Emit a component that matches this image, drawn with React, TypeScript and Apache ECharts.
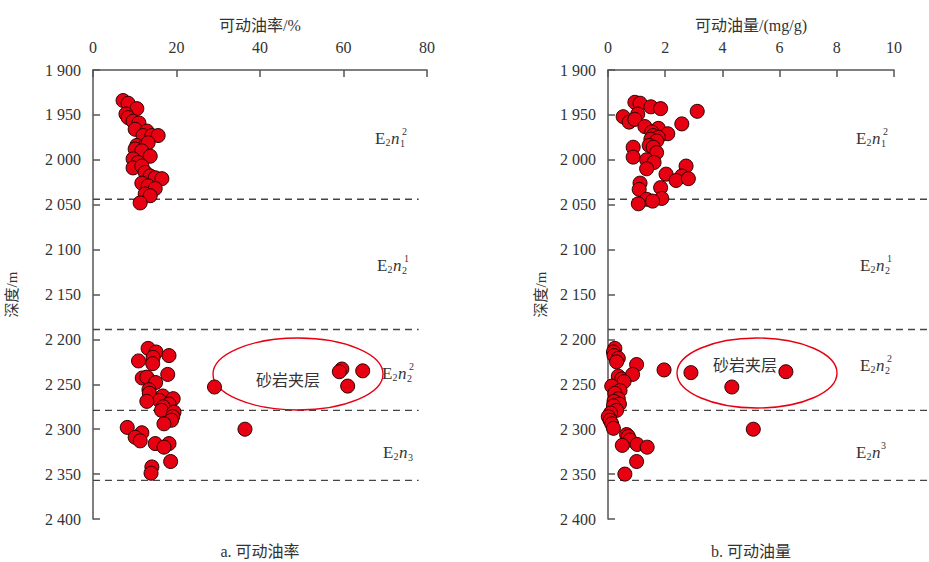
import React, { useEffect, useRef } from "react";
import * as echarts from "echarts";

// Formation boundary depths (m)
const boundaryDepths = [2044, 2189, 2279, 2357];

// a. 可动油率 (%) vs depth (m)
const rateValues = [
  7.2, 8.4, 10.5, 7.9, 8.4, 9.6, 11.0, 10.1, 12.9, 12.0, 14.1, 15.6, 10.5, 12.5, 13.2, 10.1,
  11.7, 13.7, 9.6, 10.8, 9.6, 11.7, 12.5, 13.7, 14.9, 16.5, 11.7, 13.2, 14.9, 12.5, 13.7, 11.3,
  13.2, 15.1, 14.4, 18.2, 10.9, 14.3, 17.9, 11.8, 12.9, 15.0, 13.4, 13.5, 16.7, 19.2, 15.9, 12.9,
  18.2, 16.8, 16.4, 19.4, 19.1, 18.8, 17.0, 8.2, 11.7, 10.1, 11.3, 14.9, 18.2, 17.0, 18.6, 14.1,
  13.9, 29.1, 36.4, 59.6, 59.0, 64.6, 61.0,
];
const rateDepths = [
  1934, 1937, 1943, 1949, 1953, 1957, 1959, 1966, 1968, 1973, 1973, 1973, 1984, 1984, 1981, 1988,
  1990, 1996, 1999, 2003, 2009, 2007, 2014, 2018, 2020, 2021, 2026, 2029, 2032, 2038, 2040, 2048,
  2210, 2214, 2220, 2218, 2224, 2227, 2239, 2243, 2242, 2248, 2256, 2260, 2263, 2266, 2268, 2269,
  2272, 2275, 2279, 2281, 2286, 2290, 2294, 2298, 2304, 2309, 2313, 2316, 2316, 2320, 2336, 2342,
  2349, 2253, 2300, 2233, 2236, 2235, 2252,
];

// b. 可动油量 (mg/g) vs depth (m)
const amountValues = [
  0.94, 1.12, 1.5, 1.84, 3.12, 0.53, 1.04, 0.74, 0.94, 2.58, 1.29, 1.76, 1.53, 2.09, 1.58, 1.76,
  1.5, 1.7, 1.44, 1.58, 1.7, 0.88, 0.88, 1.35, 1.61, 1.35, 2.73, 2.03, 2.58, 2.38, 2.81, 1.12,
  1.09, 1.84, 1.35, 1.88, 1.56, 1.06,
  0.24, 0.19, 0.21, 0.36, 0.3, 1.0, 1.96, 2.9, 6.22, 0.36, 0.48, 0.86, 0.56, 0.13, 4.33, 0.42,
  0.24, 0.36, 0.21, 0.4, 0.19, 0.3, 0.09, 0.01, 0.07, 0.13, 0.19, 5.08, 0.65, 0.71, 0.77, 0.5,
  1.02, 1.37, 1.0, 0.59,
];
const amountDepths = [
  1936, 1937, 1941, 1943, 1946, 1952, 1949, 1958, 1955, 1960, 1963, 1965, 1969, 1971, 1973, 1975,
  1977, 1979, 1984, 1986, 1992, 1986, 1997, 2000, 2003, 2010, 2007, 2016, 2018, 2023, 2021, 2026,
  2033, 2031, 2044, 2043, 2046, 2049,
  2210, 2214, 2218, 2221, 2225, 2228, 2234, 2237, 2236, 2241, 2244, 2239, 2247, 2252, 2253, 2257,
  2260, 2266, 2269, 2272, 2274, 2279, 2282, 2286, 2290, 2294, 2299, 2300, 2306, 2308, 2312, 2318,
  2317, 2320, 2336, 2350,
];

const SERIF = "'Liberation Serif', 'Noto Sans CJK SC', serif";
const AXIS_COLOR = "#555";
const TEXT_COLOR = "#333";
const RED = "#e60012";

function pairs(xs: number[], ys: number[]) {
  return xs.map((v, i) => [v, ys[i]]);
}

function fmtDepth(v: number) {
  const s = String(v);
  return s.length > 3 ? s.slice(0, s.length - 3) + " " + s.slice(-3) : s;
}

function xAxisOf(gridIndex: number, max: number, interval: number, name: string) {
  return {
    gridIndex,
    type: "value",
    position: "top",
    min: 0,
    max,
    interval,
    name,
    nameLocation: "middle",
    nameGap: 45,
    nameTextStyle: { fontFamily: SERIF, fontSize: 16, color: TEXT_COLOR, verticalAlign: "middle" },
    axisLine: { show: true, onZero: false, lineStyle: { color: AXIS_COLOR, width: 1.5 } },
    axisTick: { show: true, inside: true, length: 7, lineStyle: { color: AXIS_COLOR, width: 1.5 } },
    axisLabel: { show: true, color: TEXT_COLOR, fontFamily: SERIF, fontSize: 16, margin: 15, showMinLabel: true, showMaxLabel: true },
    splitLine: { show: false },
  };
}

function yAxisOf(gridIndex: number, nameGap: number) {
  return {
    gridIndex,
    type: "value",
    inverse: true,
    min: 1900,
    max: 2400,
    interval: 50,
    name: "深度/m",
    nameLocation: "middle",
    nameRotate: 90,
    nameGap,
    nameTextStyle: { fontFamily: SERIF, fontSize: 15, color: TEXT_COLOR },
    axisLine: { show: true, onZero: false, lineStyle: { color: AXIS_COLOR, width: 1.5 } },
    axisTick: { show: true, inside: true, length: 7, lineStyle: { color: AXIS_COLOR, width: 1.5 } },
    axisLabel: {
      show: true,
      color: TEXT_COLOR,
      fontFamily: SERIF,
      fontSize: 16,
      margin: 12,
      formatter: (v: number) => fmtDepth(v),
      showMinLabel: true,
      showMaxLabel: true,
    },
    splitLine: { show: false },
  };
}

function scatterOf(idx: number, data: number[][]) {
  return {
    type: "scatter",
    xAxisIndex: idx,
    yAxisIndex: idx,
    data,
    symbol: "circle",
    symbolSize: 14,
    z: 10,
    itemStyle: { color: RED, borderColor: "#2a0000", borderWidth: 1, opacity: 1 },
  };
}

// Formation label like E2n1^2 built from text pieces
function formation(x: number, y: number, sub1: string, nSub: string, sup: string) {
  const base = { fontFamily: SERIF, fill: TEXT_COLOR, verticalAlign: "middle", align: "left" };
  const els: any[] = [
    { type: "text", x, y, style: { ...base, text: "E", fontSize: 17 } },
    { type: "text", x: x + 10.5, y: y + 4, style: { ...base, text: sub1, fontSize: 10 } },
    { type: "text", x: x + 16, y, style: { ...base, text: "n", fontSize: 17, fontStyle: "italic" } },
  ];
  if (nSub) els.push({ type: "text", x: x + 25, y: y + 5, style: { ...base, text: nSub, fontSize: 10 } });
  if (sup) els.push({ type: "text", x: x + (nSub ? 27 : 25), y: y - 7, style: { ...base, text: sup, fontSize: 10 } });
  return els;
}

export default function App() {
  const ref = useRef<HTMLDivElement>(null);

  useEffect(() => {
    document.body.style.margin = "0";
    const chart = echarts.init(ref.current!, null, { renderer: "svg" });
    chart.setOption({
      animation: false,
      backgroundColor: "#fff",
      grid: [
        { left: 93, top: 70, width: 334, height: 449, containLabel: false },
        { left: 608, top: 70, width: 286, height: 449, containLabel: false },
      ],
      xAxis: [xAxisOf(0, 80, 20, "可动油率/%"), xAxisOf(1, 10, 2, "可动油量/(mg/g)")],
      yAxis: [yAxisOf(0, 74), yAxisOf(1, 60)],
      series: [scatterOf(0, pairs(rateValues, rateDepths)), scatterOf(1, pairs(amountValues, amountDepths))],
    });

    const W = chart.getWidth();
    const g: any[] = [];
    boundaryDepths.forEach((d) => {
      const y0 = chart.convertToPixel({ yAxisIndex: 0 } as any, d) as number;
      const xl0 = chart.convertToPixel({ xAxisIndex: 0 } as any, 0) as number;
      const xl1 = chart.convertToPixel({ xAxisIndex: 0 } as any, 78) as number;
      g.push({
        type: "line",
        shape: { x1: xl0, y1: y0, x2: xl1, y2: y0 },
        style: { stroke: "#444", lineWidth: 1.4, lineDash: [7, 5] },
        z: 1,
      });
      const y1 = chart.convertToPixel({ yAxisIndex: 1 } as any, d) as number;
      const xr0 = chart.convertToPixel({ xAxisIndex: 1 } as any, 0) as number;
      g.push({
        type: "line",
        shape: { x1: xr0, y1: y1, x2: W, y2: y1 },
        style: { stroke: "#444", lineWidth: 1.4, lineDash: [7, 5] },
        z: 1,
      });
    });

    // sandstone interlayer ellipses
    g.push({ type: "ellipse", shape: { cx: 298, cy: 374, rx: 85, ry: 36 }, style: { fill: "none", stroke: RED, lineWidth: 1.4 }, z: 1 });
    g.push({ type: "ellipse", shape: { cx: 757, cy: 373, rx: 80, ry: 35 }, style: { fill: "none", stroke: RED, lineWidth: 1.4 }, z: 1 });
    g.push({ type: "text", x: 288, y: 380, style: { text: "砂岩夹层", fontFamily: SERIF, fontSize: 16, fill: TEXT_COLOR, align: "center", verticalAlign: "middle" }, z: 1 });
    g.push({ type: "text", x: 745, y: 365, style: { text: "砂岩夹层", fontFamily: SERIF, fontSize: 16, fill: TEXT_COLOR, align: "center", verticalAlign: "middle" }, z: 1 });

    // formation labels
    g.push(...formation(375, 138, "2", "1", "2"));
    g.push(...formation(377, 265, "2", "2", "1"));
    g.push(...formation(382, 373, "2", "2", "2"));
    g.push(...formation(383, 452, "2", "3", ""));
    g.push(...formation(856, 138, "2", "1", "2"));
    g.push(...formation(860, 265, "2", "2", "1"));
    g.push(...formation(860, 365, "2", "2", "2"));
    g.push(...formation(856, 452, "2", "", "3"));

    // captions
    g.push({ type: "text", x: 260, y: 551, style: { text: "a. 可动油率", fontFamily: SERIF, fontSize: 16, fill: TEXT_COLOR, align: "center", verticalAlign: "middle" } });
    g.push({ type: "text", x: 751, y: 551, style: { text: "b. 可动油量", fontFamily: SERIF, fontSize: 16, fill: TEXT_COLOR, align: "center", verticalAlign: "middle" } });

    chart.setOption({ graphic: g });

    return () => chart.dispose();
  }, []);

  return <div ref={ref} style={{ width: 929, height: 562 }} />;
}
